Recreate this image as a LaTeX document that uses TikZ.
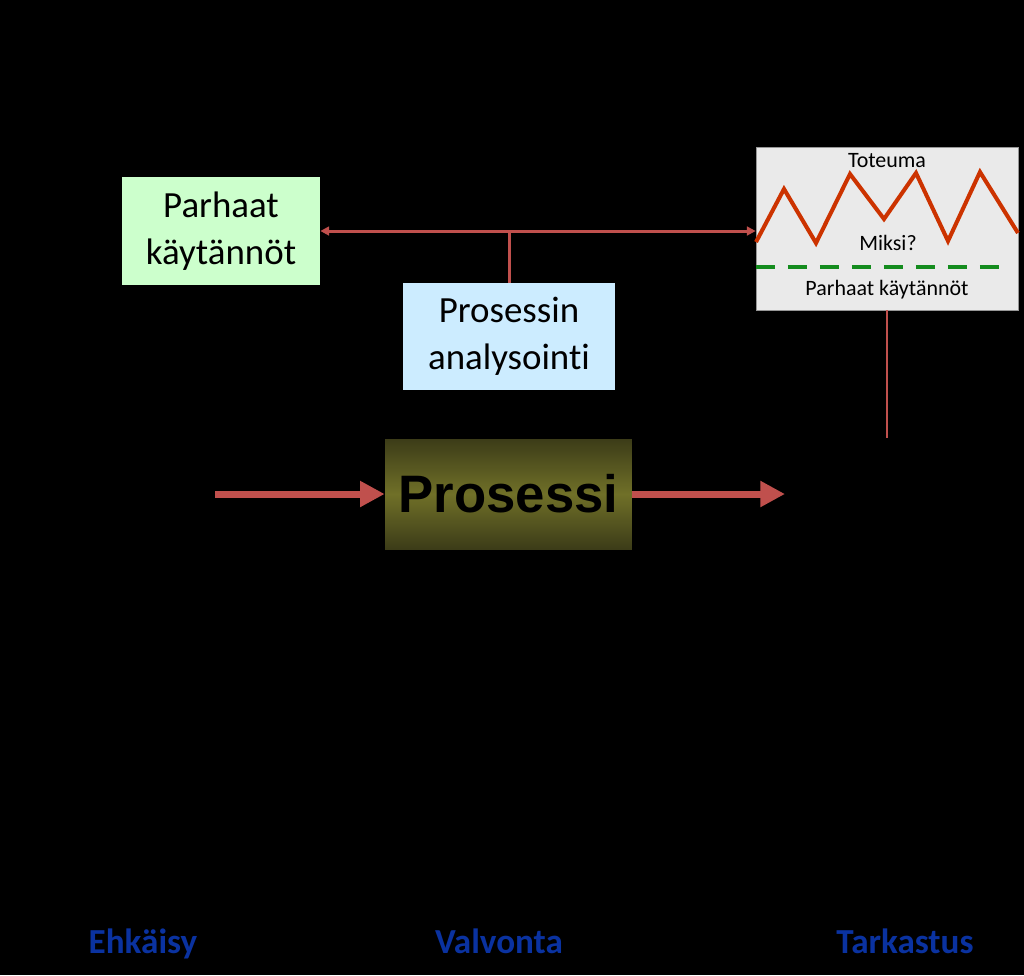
\documentclass[tikz,border=0pt]{standalone}
\usepackage{fontspec}
\setmainfont[RawFeature={-liga;-clig;-calt}]{Carlito}
\newfontfamily\arialfont{Liberation Sans}
\usetikzlibrary{arrows.meta}

\definecolor{rosso}{RGB}{192,80,77}
\definecolor{arancio}{RGB}{204,51,0}
\definecolor{verde}{RGB}{20,140,30}
\definecolor{verdechiaro}{RGB}{204,255,204}
\definecolor{azzurro}{RGB}{204,236,255}
\definecolor{grigiochiaro}{RGB}{234,234,234}
\definecolor{grigio}{RGB}{150,150,150}
\definecolor{blu}{RGB}{10,50,160}
\definecolor{olivascuro}{RGB}{60,60,24}
\definecolor{oliva}{RGB}{112,112,40}

\begin{document}
\begin{tikzpicture}[x=0.02cm, y=-0.02cm,
    casella/.style={rectangle, align=center, inner sep=0pt, font=\fontsize{21}{26.6}\selectfont},
    freccia/.style={draw=rosso, line width=4pt, -{Triangle[length=14pt, width=14pt]}},
    linea/.style={draw=rosso, line width=1.7pt},
    piccolo/.style={font=\fontsize{12.5}{15}\selectfont},
    fase/.style={anchor=base, font=\fontsize{20}{24}\selectfont\bfseries, text=blu}]
          % Sfondo nero
          \fill[black] (0,0) rectangle (1024,975);

          % Definizione dei nodi
          \node[casella, fill=verdechiaro, minimum width=3.96cm, minimum height=2.16cm] (Parhaat) at (221,231) {Parhaat\\käytännöt};
          \node[casella, fill=azzurro, minimum width=4.24cm, minimum height=2.14cm] (Analisi) at (509,336.5) {Prosessin\\analysointi};
          \node[rectangle, draw=grigio, fill=grigiochiaro, minimum width=5.24cm, minimum height=3.26cm] (Grafico) at (887,228.5) {};
          \node[rectangle, inner sep=0pt, minimum width=4.94cm, minimum height=2.2cm,
                top color=olivascuro, bottom color=olivascuro, middle color=oliva,
                font=\arialfont\fontsize{30}{36}\selectfont\bfseries] (Prosessi) at (508.5,494) {Prosessi};
          \coordinate (Ingresso) at (215,494);
          \coordinate (Uscita) at (785,494);
          \coordinate (Fine) at (887,438);

          % Contenuto del grafico
          \draw[arancio, line width=2.3pt] (756,242) -- (784,189) -- (816,243) -- (850,174) -- (884,219)
                -- (916,173) -- (948,241) -- (980,172) -- (1018,233); % Toteuma
          \draw[verde, line width=2.3pt, dash pattern=on 10.8pt off 7.4pt] (756,267) -- (1005,267); % Parhaat käytännöt
          \node[piccolo] (Toteuma) at (887,161) {Toteuma};
          \node[piccolo] (Miksi) at (888,243) {Miksi?};
          \node[piccolo] (Pk) at (887,290) {Parhaat käytännöt};

          % Definizione degli archi
          \draw[linea, {Triangle[length=5pt, width=5pt]}-{Triangle[length=5pt, width=5pt]}] (Parhaat.east) -- (Parhaat.east -| Grafico.west); % Retroazione
          \draw[linea] (Analisi.north) -- (Analisi.north |- Parhaat.east); % Analisi sulla linea
          \draw[rosso, line width=1pt] (Grafico.south) -- (Fine); % Linea sottile
          \draw[freccia] (Ingresso) -- (Prosessi.west); % Ingresso
          \draw[freccia] (Prosessi.east) -- (Uscita); % Uscita

          % Fasi
          \node[fase] (Ehkaisy) at (143,953) {Ehkäisy};
          \node[fase] (Valvonta) at (499,953) {Valvonta};
          \node[fase] (Tarkastus) at (905,953) {Tarkastus};
        \end{tikzpicture}
\end{document}
